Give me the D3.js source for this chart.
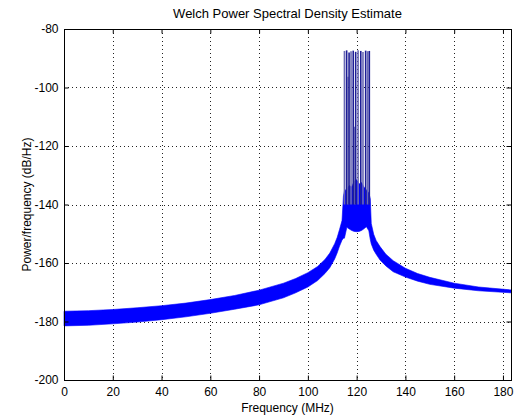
<!DOCTYPE html>
<meta charset="utf-8">
<title>Welch Power Spectral Density Estimate</title>
<script src="https://d3js.org/d3.v7.min.js"></script>
<style>
  body { margin: 0; background: #fff; }
  text { font-family: "Liberation Sans", Arial, sans-serif; fill: #000; }
  text.title { font-size: 13px; text-anchor: middle; }
  text.label { font-size: 12px; text-anchor: middle; }
  .tick text { font-size: 12px; }
  .grid line { stroke: #222; stroke-dasharray: 1,3; stroke-width: 1px; }
</style>
<div id="chart"></div>
<script>
// envelope of the PSD band
var freqMHz = [0, 10, 20, 30, 40, 50, 60, 70, 80, 90, 95, 100, 104, 107, 109, 111, 112, 113, 114, 114.6,
  115, 116, 117, 118, 119, 120, 121, 122, 123, 124, 125, 125.6, 126, 127, 128, 129.6, 132, 135, 140, 145, 150, 160, 170, 183.3];
var upperDb = [-176.5, -176.3, -175.9, -175.3, -174.6, -173.7, -172.5, -171.1, -169.3, -166.9, -165.3, -163.3, -161.2, -158.8, -156.6, -153.4, -151.3, -148.5, -145.5, -137,
  -135.5, -134.5, -133.5, -134, -132, -131.5, -133, -132.5, -134, -135, -136, -138, -146.5, -150.2, -152.3, -154.4, -157, -159.2, -161.8, -163.6, -164.9, -166.9, -168.2, -169.2];
var lowerDb = [-181.5, -181.3, -180.8, -180.2, -179.4, -178.4, -177.2, -175.8, -174.3, -171.9, -170.2, -168.2, -166, -163.6, -161.6, -158.6, -156.6, -154.2, -152.2, -151.5,
  -151.5, -147.8, -148.4, -148.9, -149.2, -149.3, -149.2, -148.9, -148.3, -147.6, -149, -152, -153.5, -155.6, -157, -159, -161, -163, -164.8, -166.2, -167.3, -168.6, -169.5, -170.2];

// narrow peaks of the tones
var spikeFreq = [115.0, 115.9, 116.4, 116.9, 117.7, 118.6, 119.3, 119.6, 120.6, 121.7, 122.6, 123.7, 124.5, 125.2];
var spikeTopDb = [-87.5, -87.3, -96.3, -88.0, -87.6, -87.4, -113.4, -87.8, -87.3, -87.5, -87.9, -87.4, -87.6, -87.5];

var xTicks = [0, 20, 40, 60, 80, 100, 120, 140, 160, 180];
var yTicks = [-200, -180, -160, -140, -120, -100, -80];

var margin = {top: 29, right: 7, bottom: 38, left: 64},
    width = 518 - margin.left - margin.right,
    height = 418 - margin.top - margin.bottom;

var svg = d3.select("#chart")
  .append("svg")
    .attr("width", 518)
    .attr("height", 418)
  .append("g")
    .attr("transform", "translate(" + margin.left + "," + margin.top + ")");

var x = d3.scaleLinear().domain([0, 183.3]).range([0, width]);
var y = d3.scaleLinear().domain([-200, -80]).range([height, 0]);

// plain hyphen like the original, not the unicode minus
var fmt = function(d) { return String(d); };

// dotted grid
svg.append("g").attr("class", "grid")
  .selectAll("line").data(xTicks.slice(1)).enter().append("line")
    .attr("x1", function(d) { return Math.round(x(d)) + 0.5; })
    .attr("x2", function(d) { return Math.round(x(d)) + 0.5; })
    .attr("y1", 0).attr("y2", height);
svg.append("g").attr("class", "grid")
  .selectAll("line").data(yTicks.slice(1, -1)).enter().append("line")
    .attr("y1", function(d) { return Math.round(y(d)) + 0.5; })
    .attr("y2", function(d) { return Math.round(y(d)) + 0.5; })
    .attr("x1", 0).attr("x2", width);

// band
var band = freqMHz.map(function(f, i) { return {f: f, hi: upperDb[i], lo: lowerDb[i]}; });
svg.append("path")
  .datum(band)
  .attr("fill", "#0000ff")
  .attr("stroke", "#0000ff")
  .attr("stroke-width", 0.6)
  .attr("d", d3.area()
    .x(function(d) { return x(d.f); })
    .y0(function(d) { return y(d.lo); })
    .y1(function(d) { return y(d.hi); }));

// spikes
svg.append("g").selectAll("line")
  .data(spikeFreq).enter().append("line")
    .attr("x1", function(d) { return x(d); })
    .attr("x2", function(d) { return x(d); })
    .attr("y1", y(-140))
    .attr("y2", function(d, i) { return y(spikeTopDb[i]); })
    .attr("stroke", function(d, i) { return i % 2 ? "#1e1e96" : "#6a6ab4"; })
    .attr("stroke-width", 1.6);

// axes, MATLAB style ticks inside
var tl = 4.5;
svg.append("g")
  .attr("transform", "translate(0," + height + ")")
  .call(d3.axisBottom(x).tickValues(xTicks).tickSize(-tl).tickPadding(tl + 3).tickFormat(fmt))
  .call(function(g) { g.select(".domain").remove(); });
svg.append("g")
  .call(d3.axisTop(x).tickValues(xTicks).tickSize(-tl).tickFormat(""))
  .call(function(g) { g.select(".domain").remove(); });
svg.append("g")
  .call(d3.axisLeft(y).tickValues(yTicks).tickSize(-tl).tickPadding(tl + 1).tickFormat(fmt))
  .call(function(g) { g.select(".domain").remove(); });
svg.append("g")
  .attr("transform", "translate(" + width + ",0)")
  .call(d3.axisRight(y).tickValues(yTicks).tickSize(-tl).tickFormat(""))
  .call(function(g) { g.select(".domain").remove(); });

svg.selectAll(".tick text").attr("fill", "#000").style("font-family", "'Liberation Sans', Arial, sans-serif");

svg.append("rect")
  .attr("x", 0.5).attr("y", 0.5)
  .attr("width", width).attr("height", height)
  .attr("fill", "none").attr("stroke", "#000").attr("stroke-width", 1);

svg.append("text")
  .attr("class", "title")
  .attr("x", width / 2)
  .attr("y", -11)
  .text("Welch Power Spectral Density Estimate");

svg.append("text")
  .attr("class", "label")
  .attr("x", width / 2)
  .attr("y", height + 32)
  .text("Frequency (MHz)");

svg.append("text")
  .attr("class", "label")
  .attr("transform", "rotate(-90)")
  .attr("x", -height / 2)
  .attr("y", -33)
  .text("Power/frequency (dB/Hz)");
</script>
